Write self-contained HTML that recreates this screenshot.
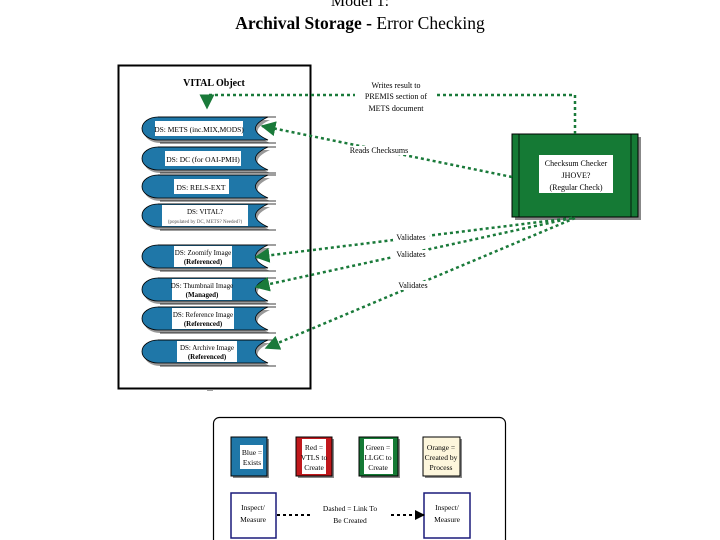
<!DOCTYPE html>
<html><head><meta charset="utf-8"><style>
html,body{margin:0;padding:0;background:#fff;}
svg{display:block;font-family:"Liberation Serif",serif;}
</style></head><body>
<svg width="720" height="540" viewBox="0 0 720 540" xmlns="http://www.w3.org/2000/svg">
<defs>
<marker id="ah" viewBox="0 0 10 10" refX="9" refY="5" markerWidth="6" markerHeight="6" orient="auto"><path d="M0,0 L10,5 L0,10 Z" fill="#1a7a3a"/></marker>
<marker id="ab" viewBox="0 0 10 10" refX="9" refY="5" markerWidth="5" markerHeight="5" orient="auto"><path d="M0,0 L10,5 L0,10 Z" fill="#000"/></marker>
<g id="nd">
<path d="M160,3 H270 Q245,14.5 270,26 H160 A16,11.5 0 0 1 160,3Z" fill="#999"/>
<path d="M158,0 H268 Q243,11.5 268,23 H158 A16,11.5 0 0 1 158,0Z" fill="#1f77a8" stroke="#000" stroke-width="0.8"/>
<path d="M158,0 H276 M160,26 H276" stroke="#000" stroke-width="0.8"/>
</g>
</defs>
<text x="360" y="6" font-size="16" text-anchor="middle">Model 1:</text>
<text x="360" y="29" font-size="17.5" text-anchor="middle"><tspan font-weight="bold">Archival Storage -</tspan> Error Checking</text>

<rect x="118.5" y="65.5" width="192" height="323" fill="#fff" stroke="#000" stroke-width="2"/>
<text x="214" y="86" font-size="10" font-weight="bold" text-anchor="middle">VITAL Object</text>
<text x="210" y="391" font-size="8" text-anchor="middle">...</text>

<g transform="translate(0,117)"><use href="#nd"/><rect x="155" y="4" width="88" height="15" fill="#fff"/><text x="199" y="15" font-size="7.5" text-anchor="middle">DS: METS (inc.MIX,MODS)</text></g>
<g transform="translate(0,147)"><use href="#nd"/><rect x="165" y="4" width="76" height="15" fill="#fff"/><text x="203" y="15" font-size="7.5" text-anchor="middle">DS: DC (for OAI-PMH)</text></g>
<g transform="translate(0,175)"><use href="#nd"/><rect x="174" y="4" width="55" height="15" fill="#fff"/><text x="201" y="15" font-size="7.5" text-anchor="middle">DS: RELS-EXT</text></g>
<g transform="translate(0,204)"><use href="#nd"/><rect x="162" y="1" width="86" height="21" fill="#fff"/><text x="205" y="10" font-size="7" text-anchor="middle">DS: VITAL?</text><text x="205" y="19" font-size="5" fill="#555" text-anchor="middle">(populated by DC, METS? Needed?)</text></g>
<g transform="translate(0,245)"><use href="#nd"/><rect x="174" y="1" width="58" height="21" fill="#fff"/><text x="203" y="10" font-size="7" text-anchor="middle">DS: Zoomify Image</text><text x="203" y="19" font-size="7" font-weight="bold" text-anchor="middle">(Referenced)</text></g>
<g transform="translate(0,278)"><use href="#nd"/><rect x="172" y="1" width="60" height="21" fill="#fff"/><text x="202" y="10" font-size="7" text-anchor="middle">DS: Thumbnail Image</text><text x="202" y="19" font-size="7" font-weight="bold" text-anchor="middle">(Managed)</text></g>
<g transform="translate(0,307)"><use href="#nd"/><rect x="172" y="1" width="62" height="21" fill="#fff"/><text x="203" y="10" font-size="7" text-anchor="middle">DS: Reference Image</text><text x="203" y="19" font-size="7" font-weight="bold" text-anchor="middle">(Referenced)</text></g>
<g transform="translate(0,340)"><use href="#nd"/><rect x="177" y="1" width="60" height="21" fill="#fff"/><text x="207" y="10" font-size="7" text-anchor="middle">DS: Archive Image</text><text x="207" y="19" font-size="7" font-weight="bold" text-anchor="middle">(Referenced)</text></g>

<!-- green box -->
<rect x="515" y="137" width="126" height="83" fill="#888"/>
<rect x="512" y="134" width="126" height="83" fill="#157a35" stroke="#000" stroke-width="1"/>
<line x1="519" y1="134" x2="519" y2="217" stroke="#000" stroke-width="0.8"/>
<line x1="631" y1="134" x2="631" y2="217" stroke="#000" stroke-width="0.8"/>
<rect x="539" y="155" width="74" height="38" fill="#fff"/>
<text x="576" y="166" font-size="8" text-anchor="middle">Checksum Checker</text>
<text x="576" y="178" font-size="8" text-anchor="middle">JHOVE?</text>
<text x="576" y="190" font-size="8" text-anchor="middle">(Regular Check)</text>

<!-- connectors -->
<g fill="none" stroke="#1a7a3a" stroke-width="2.5" stroke-dasharray="3,3">
<path d="M575,134 V95 H207 V108" marker-end="url(#ah)"/>
<path d="M512,177 L262,126" marker-end="url(#ah)"/>
<path d="M572,218 L256,257" marker-end="url(#ah)"/>
<path d="M572,218 L256,287" marker-end="url(#ah)"/>
<path d="M575,218 L266,348" marker-end="url(#ah)"/>
</g>
<rect x="355" y="80" width="80" height="35" fill="#fff"/>
<text x="396" y="88" font-size="8" text-anchor="middle">Writes result to</text>
<text x="396" y="99" font-size="8" text-anchor="middle">PREMIS section of</text>
<text x="396" y="111" font-size="8" text-anchor="middle">METS document</text>
<rect x="345" y="146" width="68" height="9" fill="#fff"/>
<text x="379" y="153" font-size="8" text-anchor="middle">Reads Checksums</text>
<rect x="393" y="232" width="36" height="9" fill="#fff"/>
<text x="411" y="240" font-size="8" text-anchor="middle">Validates</text>
<rect x="393" y="250" width="36" height="9" fill="#fff"/>
<text x="411" y="257" font-size="8" text-anchor="middle">Validates</text>
<rect x="395" y="281" width="36" height="9" fill="#fff"/>
<text x="413" y="288" font-size="8" text-anchor="middle">Validates</text>

<!-- legend -->
<rect x="213.5" y="417.5" width="292" height="135" rx="6" fill="#fff" stroke="#000" stroke-width="1.2"/>
<rect x="233" y="439" width="36" height="39" fill="#888"/>
<rect x="231" y="437" width="36" height="39" fill="#1f77a8" stroke="#000"/>
<rect x="240" y="445" width="23" height="24" fill="#fff"/>
<text x="252" y="455" font-size="7.5" text-anchor="middle">Blue =</text>
<text x="252" y="465" font-size="7.5" text-anchor="middle">Exists</text>
<rect x="298" y="439" width="36" height="39" fill="#888"/>
<rect x="296" y="437" width="36" height="39" fill="#c0181c" stroke="#000"/>
<rect x="302" y="439" width="24" height="35" fill="#fff"/>
<text x="314" y="450" font-size="7.5" text-anchor="middle">Red =</text>
<text x="314" y="460" font-size="7.5" text-anchor="middle">VTLS to</text>
<text x="314" y="470" font-size="7.5" text-anchor="middle">Create</text>
<rect x="361" y="439" width="39" height="39" fill="#888"/>
<rect x="359" y="437" width="39" height="39" fill="#157a35" stroke="#000"/>
<rect x="364" y="439" width="29" height="35" fill="#fff"/>
<text x="378" y="450" font-size="7.5" text-anchor="middle">Green =</text>
<text x="378" y="460" font-size="7.5" text-anchor="middle">LLGC to</text>
<text x="378" y="470" font-size="7.5" text-anchor="middle">Create</text>
<rect x="425" y="439" width="37" height="39" fill="#888"/>
<rect x="423" y="437" width="37" height="39" fill="#fdf6dc" stroke="#000"/>
<text x="441" y="450" font-size="7.5" text-anchor="middle">Orange =</text>
<text x="441" y="460" font-size="7.5" text-anchor="middle">Created by</text>
<text x="441" y="470" font-size="7.5" text-anchor="middle">Process</text>
<rect x="231" y="493" width="45" height="45" fill="#fff" stroke="#1a1a7a" stroke-width="1.5"/>
<text x="253" y="510" font-size="7.5" text-anchor="middle">Inspect/</text>
<text x="253" y="522" font-size="7.5" text-anchor="middle">Measure</text>
<rect x="424" y="493" width="46" height="45" fill="#fff" stroke="#1a1a7a" stroke-width="1.5"/>
<text x="447" y="510" font-size="7.5" text-anchor="middle">Inspect/</text>
<text x="447" y="522" font-size="7.5" text-anchor="middle">Measure</text>
<path d="M277,515 H424" stroke="#000" stroke-width="2" stroke-dasharray="3,3" fill="none" marker-end="url(#ab)"/>
<rect x="312" y="502" width="76" height="25" fill="#fff"/>
<text x="350" y="511" font-size="7.5" text-anchor="middle">Dashed = Link To</text>
<text x="350" y="523" font-size="7.5" text-anchor="middle">Be Created</text>
</svg>
</body></html>
